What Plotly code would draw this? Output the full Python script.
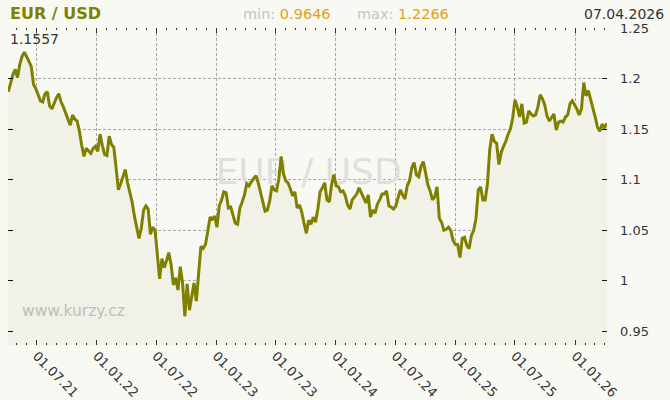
import pandas as pd
import plotly.graph_objects as go

# Weekly EUR/USD closes (Tuesdays)
eurusd_2021 = [1.187, 1.196, 1.204, 1.209,
               1.201, 1.214, 1.222, 1.226,
               1.222, 1.217, 1.212, 1.194, 1.190,
               1.183, 1.178, 1.177, 1.185,
               1.187, 1.173, 1.170, 1.176, 1.181,
               1.185, 1.177, 1.172, 1.166,
               1.158, 1.154, 1.164, 1.160,
               1.158, 1.148, 1.134, 1.123, 1.131,
               1.128, 1.126, 1.131, 1.133]
eurusd_2022 = [1.128, 1.145, 1.134, 1.125,
               1.124, 1.143, 1.135, 1.132,
               1.112, 1.090, 1.096, 1.102, 1.110,
               1.097, 1.088, 1.078, 1.064,
               1.052, 1.042, 1.052, 1.070, 1.074,
               1.071, 1.046, 1.053, 1.050,
               1.027, 1.002, 1.022, 1.013,
               1.020, 1.028, 1.016, 0.996, 1.003,
               0.991, 1.014, 0.998, 0.965,
               0.997, 0.971, 0.984, 0.998,
               0.980, 1.006, 1.034, 1.032, 1.036,
               1.049, 1.063, 1.061, 1.064]
eurusd_2023 = [1.053, 1.074, 1.080, 1.088, 1.087,
               1.072, 1.073, 1.064, 1.057,
               1.056, 1.072, 1.078, 1.085,
               1.096, 1.094, 1.098, 1.101,
               1.104, 1.097, 1.087, 1.077, 1.069,
               1.070, 1.079, 1.094, 1.090,
               1.089, 1.101, 1.123, 1.106,
               1.099, 1.097, 1.091, 1.084, 1.088,
               1.072, 1.075, 1.068, 1.057,
               1.047, 1.060, 1.056, 1.063, 1.058,
               1.071, 1.088, 1.092, 1.097,
               1.080, 1.078, 1.095, 1.105]
eurusd_2024 = [1.094, 1.093, 1.088, 1.089, 1.084,
               1.075, 1.071, 1.080, 1.083,
               1.086, 1.092, 1.086, 1.082,
               1.077, 1.085, 1.063, 1.070, 1.067,
               1.076, 1.080, 1.086, 1.086,
               1.089, 1.074, 1.073, 1.071,
               1.074, 1.082, 1.090, 1.085, 1.081,
               1.094, 1.099, 1.112, 1.117,
               1.105, 1.103, 1.113, 1.118,
               1.107, 1.095, 1.089, 1.080, 1.083,
               1.093, 1.062, 1.058, 1.050,
               1.051, 1.053, 1.050, 1.040, 1.036]
eurusd_2025 = [1.036, 1.023, 1.042, 1.043,
               1.035, 1.032, 1.045, 1.050,
               1.062, 1.090, 1.093, 1.080,
               1.080, 1.096, 1.130, 1.145, 1.138,
               1.136, 1.115, 1.127, 1.133,
               1.138, 1.145, 1.150, 1.161,
               1.179, 1.172, 1.162, 1.175, 1.156,
               1.157, 1.168, 1.165, 1.163,
               1.164, 1.172, 1.184, 1.180, 1.174,
               1.163, 1.158, 1.161, 1.165,
               1.149, 1.157, 1.158, 1.157,
               1.162, 1.164, 1.175, 1.178, 1.174]
eurusd_2026 = [1.170, 1.164, 1.170, 1.196,
               1.183, 1.188, 1.180, 1.172,
               1.162, 1.152, 1.148, 1.155, 1.151,
               1.1557]

first_date = "2021-04-06"
values = eurusd_2021 + eurusd_2022 + eurusd_2023 + eurusd_2024 + eurusd_2025 + eurusd_2026
dates = pd.date_range(first_date, periods=len(values), freq="7D")

y_ticks = [0.95, 1.0, 1.05, 1.1, 1.15, 1.2, 1.25]
y_tick_text = ["0.95", "1", "1.05", "1.1", "1.15", "1.2", "1.25"]

title_text = "EUR / USD"
min_text = "0.9646"
max_text = "1.2266"
date_text = "07.04.2026"
last_text = "1.1557"
site_text = "www.kurzy.cz"

OLIVE = "#808000"
BG = "#f9f9f4"
GRID = "#a8a8a8"
FONT = "DejaVu Sans"

fig = go.Figure()

# watermark behind the line
fig.add_trace(go.Scatter(
    x=[pd.Timestamp("2023-10-10")], y=[1.105], mode="text", text=[title_text],
    textposition="middle center",
    textfont=dict(family=FONT, size=36, color="#dfdfdd"),
    hoverinfo="skip", showlegend=False))

fig.add_trace(go.Scatter(
    x=dates, y=values, mode="lines",
    line=dict(color=OLIVE, width=3),
    fill="tozeroy", fillcolor="#f1f1e7",
    hoverinfo="skip", showlegend=False))

fig.update_layout(
    width=670, height=400,
    margin=dict(l=8, r=63, t=28, b=55, autoexpand=False),
    paper_bgcolor=BG, plot_bgcolor=BG,
    font=dict(family=FONT, size=13, color="#333333"),
    showlegend=False, hovermode=False,
    xaxis=dict(
        type="date", range=["2021-04-05", "2026-04-08"], automargin=False,
        tick0="2021-07-01", dtick="M6", tickformat="%d.%m.%y", tickangle=45,
        ticks="inside", ticklen=5, tickcolor="#333333", mirror="ticks",
        showgrid=True, gridcolor=GRID, griddash="3px,2px", gridwidth=1,
        showline=False, zeroline=False,
        tickfont=dict(family=FONT, size=13, color="#333333"),
        minor=dict(dtick="M1", tick0="2021-07-01", ticks="inside", ticklen=2,
                   tickcolor="#333333", showgrid=False),
    ),
    yaxis=dict(
        range=[0.9366, 1.25], side="right", automargin=False,
        tickvals=y_ticks, ticktext=y_tick_text,
        ticks="inside", ticklen=5, tickcolor="#111111", mirror="ticks",
        showgrid=True, gridcolor=GRID, griddash="3px,2px", gridwidth=1,
        showline=False, zeroline=False, ticklabelstandoff=12,
        tickfont=dict(family=FONT, size=13, color="#333333"),
    ),
)

annotations = [
    dict(x=0, y=1.047, xref="paper", yref="paper", xanchor="left", yanchor="middle",
         text="<b>" + title_text + "</b>", showarrow=False,
         font=dict(family=FONT, size=16, color=OLIVE)),
    dict(x=0.3898, y=1.045, xref="paper", yref="paper", xanchor="left", yanchor="middle",
         text="<span style='color:#c4c4c0'>min:</span> " + min_text, showarrow=False,
         font=dict(family=FONT, size=14.5, color="#dfa020")),
    dict(x=0.5788, y=1.045, xref="paper", yref="paper", xanchor="left", yanchor="middle",
         text="<span style='color:#c4c4c0'>max:</span> " + max_text, showarrow=False,
         font=dict(family=FONT, size=14.5, color="#dfa020")),
    dict(x=1.0985, y=1.045, xref="paper", yref="paper", xanchor="right", yanchor="middle",
         text=date_text, showarrow=False,
         font=dict(family=FONT, size=14, color="#333333")),
    dict(x=0, y=0.965, xref="paper", yref="paper", xanchor="left", yanchor="middle",
         text=last_text, showarrow=False,
         font=dict(family=FONT, size=14, color="#333333")),
    dict(x=0.0200, y=0.107, xref="paper", yref="paper", xanchor="left", yanchor="middle",
         text=site_text, showarrow=False,
         font=dict(family=FONT, size=15.5, color="#bdbdbd")),
]
fig.update_layout(annotations=annotations)

fig.write_html("out.html", config={"displayModeBar": False},
               post_script="document.body.style.margin='0';document.body.style.padding='0';")
